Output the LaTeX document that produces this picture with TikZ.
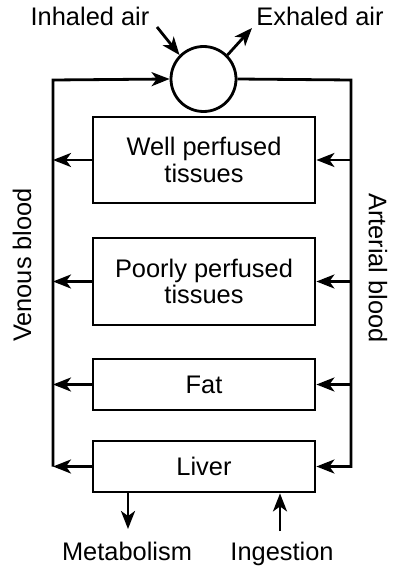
\documentclass[tikz,border=0pt]{standalone}
\usepackage{fontspec}
\setmainfont{Liberation Sans}
\usetikzlibrary{arrows.meta,positioning}

\begin{document}
\begin{tikzpicture}[x=1bp,y=-1bp,line width=2.8bp,
  >={Stealth[length=18bp,width=14bp,inset=5bp]},
  font=\fontsize{25.5}{26.5}\selectfont,
  organ/.style={draw,minimum width=222bp,align=center,inner sep=0pt},
  lbl/.style={inner sep=0pt,anchor=base}]
\useasboundingbox (0,0) rectangle (393,569);

\node[draw,circle,minimum size=65bp,inner sep=0pt] (lung) at (203.5,79) {};
\node[organ,minimum height=86bp] (well) at (204,160) {Well perfused\\tissues};
\node[organ,minimum height=87bp] (poor) at (204,281.5) {Poorly perfused\\tissues};
\node[organ,minimum height=51bp] (fat) at (204,384.5) {Fat};
\node[organ,minimum height=51bp] (liver) at (204,466.5) {Liver};

\coordinate (vtop) at (53,80);
\coordinate (vbot) at (53,466.5);
\coordinate (atop) at (351,80);
\coordinate (abot) at (351,466.5);

% blood loop
\draw[->] (vbot) -- (vtop) -- (lung.west);
\draw[->] (lung.east) -- (atop) -- (abot) -- (liver.east);
\foreach \o in {well,poor,fat}
  \draw[->] (atop |- \o.east) -- (\o.east);
\foreach \o in {well,poor,fat,liver}
  \draw[->] (\o.west) -- (vtop |- \o.west);

% air
\node[lbl] (inhaled) at (90,26) {Inhaled air};
\node[lbl] (exhaled) at (320,26) {Exhaled air};
\coordinate (inair) at (157,27);
\coordinate (exair) at (252,28);
\draw[->] (inair) -- (lung.135);
\draw[->] (lung.45) -- (exair);

% liver in/out
\node[lbl] (metab) at (127,560) {Metabolism};
\node[lbl] (ingest) at (282,560) {Ingestion};
\coordinate (mout) at (128,529);
\coordinate (iin) at (280,531);
\draw[->] (mout |- liver.south) -- (mout);
\draw[->] (iin) -- (iin |- liver.south);

\node[rotate=90,inner sep=0pt] (venous) at (22,265) {Venous blood};
\node[rotate=-90,inner sep=0pt] (arterial) at (378,268) {Arterial blood};
\end{tikzpicture}
\end{document}
